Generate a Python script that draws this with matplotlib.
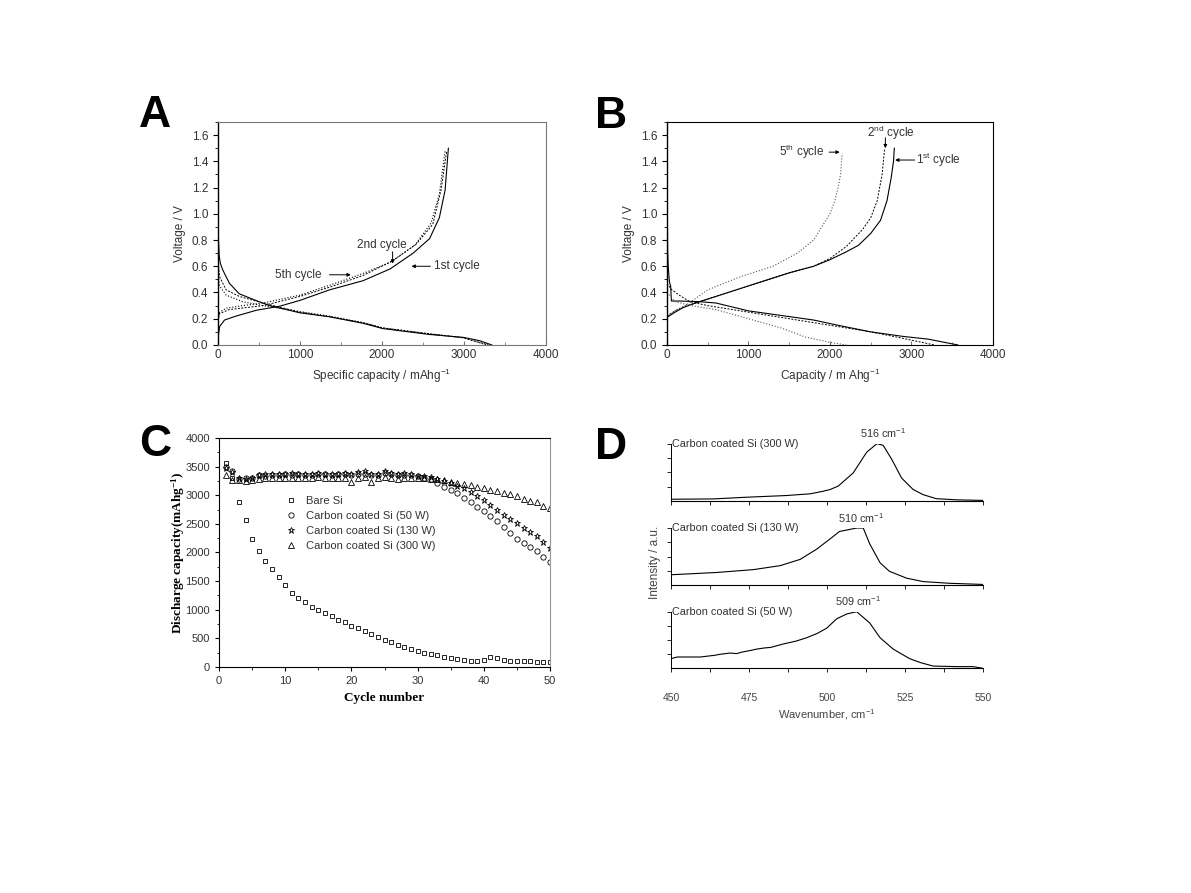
import matplotlib

matplotlib.use("Agg")
import matplotlib.pyplot as plt
from matplotlib.ticker import MultipleLocator

plt.rcParams["font.family"] = ["Liberation Sans", "DejaVu Sans"]
plt.rcParams["mathtext.fontset"] = "custom"
plt.rcParams["mathtext.default"] = "regular"

TXT = "#333333"
SPINE = "#777777"

# ---- panel A: charge/discharge profiles ----
A_cap_d1 = [0, 5, 15, 30, 60, 140, 260, 460, 630, 1000, 1360, 1770, 2010, 2580, 2990, 3190, 3340]
A_v_d1 = [1.0, 0.82, 0.68, 0.62, 0.57, 0.47, 0.39, 0.34, 0.30, 0.245, 0.215, 0.165, 0.125, 0.08, 0.058, 0.033, 0.0]
A_cap_c1 = [0, 20, 80, 220, 470, 750, 1000, 1360, 1770, 2100, 2380, 2580, 2700, 2770, 2810]
A_v_c1 = [0.05, 0.14, 0.19, 0.22, 0.265, 0.295, 0.34, 0.42, 0.49, 0.58, 0.70, 0.81, 0.97, 1.18, 1.50]
A_cap_d2 = [0, 20, 100, 260, 550, 1000, 1360, 1770, 2010, 2580, 2990, 3300]
A_v_d2 = [0.65, 0.52, 0.42, 0.37, 0.32, 0.25, 0.215, 0.17, 0.13, 0.085, 0.055, 0.0]
A_cap_c2 = [0, 20, 140, 550, 1000, 1360, 1770, 2140, 2420, 2620, 2720, 2790]
A_v_c2 = [0.18, 0.24, 0.27, 0.30, 0.37, 0.44, 0.53, 0.645, 0.77, 0.92, 1.18, 1.48]
A_cap_d5 = [0, 20, 100, 300, 550, 1000, 1360, 1770, 2010, 2580, 2990, 3280]
A_v_d5 = [0.55, 0.45, 0.38, 0.33, 0.30, 0.255, 0.22, 0.17, 0.13, 0.085, 0.055, 0.0]
A_cap_c5 = [0, 20, 100, 300, 550, 1000, 1360, 1770, 2100, 2400, 2600, 2700, 2770]
A_v_c5 = [0.20, 0.25, 0.28, 0.30, 0.32, 0.38, 0.455, 0.545, 0.63, 0.76, 0.93, 1.15, 1.48]

# ---- panel B ----
B_cap_d1 = [0, 8, 15, 30, 45, 55, 150, 400, 600, 1000, 1400, 1800, 2100, 2500, 2900, 3200, 3570]
B_v_d1 = [1.50, 0.73, 0.60, 0.48, 0.45, 0.335, 0.335, 0.33, 0.32, 0.26, 0.225, 0.19, 0.15, 0.10, 0.065, 0.045, 0.0]
B_cap_c1 = [0, 100, 200, 350, 750, 1100, 1500, 1800, 2000, 2200, 2350, 2500, 2620, 2700, 2750, 2780, 2790]
B_v_c1 = [0.21, 0.25, 0.285, 0.32, 0.40, 0.47, 0.55, 0.60, 0.65, 0.71, 0.76, 0.85, 0.95, 1.10, 1.27, 1.40, 1.50]
B_cap_d2 = [0, 60, 150, 280, 500, 1000, 1500, 2000, 2500, 2900, 3280]
B_v_d2 = [0.47, 0.42, 0.38, 0.33, 0.30, 0.25, 0.20, 0.15, 0.10, 0.05, 0.0]
B_cap_c2 = [0, 100, 200, 350, 750, 1100, 1500, 1800, 2000, 2200, 2400, 2500, 2580, 2640, 2670]
B_v_c2 = [0.22, 0.26, 0.29, 0.32, 0.40, 0.47, 0.55, 0.60, 0.66, 0.75, 0.88, 0.97, 1.10, 1.30, 1.49]
B_cap_d5 = [0, 100, 300, 600, 1000, 1400, 1700, 2000, 2200]
B_v_d5 = [0.40, 0.33, 0.30, 0.27, 0.20, 0.13, 0.06, 0.02, 0.0]
B_cap_c5 = [0, 100, 250, 500, 900, 1300, 1600, 1800, 1900, 2000, 2060, 2100, 2130, 2150]
B_v_c5 = [0.22, 0.26, 0.31, 0.42, 0.52, 0.60, 0.70, 0.80, 0.90, 1.00, 1.10, 1.20, 1.30, 1.46]

# ---- panel C: cycling ----
cycles = list(range(1, 51))
bare_si = [3560, 3300, 2880, 2560, 2240, 2030, 1860, 1710, 1570, 1430,
           1290, 1205, 1130, 1040, 990, 945, 885, 815, 785, 720,
           680, 625, 575, 525, 475, 430, 390, 350, 315, 275,
           245, 220, 210, 170, 150, 135, 120, 110, 110, 115,
           170, 150, 130, 100, 100, 100, 100, 85, 80, 80]
si_50w = [3500, 3420, 3280, 3300, 3310, 3350, 3340, 3350, 3360, 3370,
          3360, 3370, 3350, 3360, 3380, 3370, 3360, 3370, 3380, 3360,
          3370, 3380, 3350, 3360, 3390, 3370, 3360, 3360, 3350, 3330,
          3310, 3280, 3220, 3150, 3100, 3040, 2960, 2890, 2800, 2720,
          2640, 2550, 2450, 2340, 2240, 2170, 2100, 2030, 1930, 1840]
si_130w = [3480, 3400, 3300, 3290, 3300, 3360, 3370, 3370, 3380, 3380,
           3390, 3380, 3380, 3370, 3390, 3380, 3370, 3380, 3390, 3380,
           3400, 3420, 3380, 3370, 3420, 3390, 3380, 3390, 3370, 3340,
           3330, 3320, 3280, 3250, 3210, 3170, 3120, 3060, 2980, 2910,
           2830, 2750, 2660, 2580, 2510, 2430, 2360, 2280, 2180, 2070]
si_300w = [3350, 3270, 3260, 3250, 3270, 3290, 3300, 3310, 3310, 3310,
           3300, 3310, 3300, 3310, 3320, 3300, 3310, 3310, 3300, 3230,
           3310, 3320, 3230, 3310, 3320, 3300, 3290, 3310, 3300, 3300,
           3300, 3290, 3280, 3260, 3240, 3220, 3200, 3180, 3150, 3120,
           3100, 3080, 3040, 3020, 2980, 2940, 2900, 2880, 2820, 2780]
c_labels = ["Bare Si", "Carbon coated Si (50 W)", "Carbon coated Si (130 W)",
            "Carbon coated Si (300 W)"]

# ---- panel D: Raman ----
wn_300 = [450, 463.6, 474, 487, 494.6, 498.8, 501, 503.6, 508.4, 512.7, 516, 518,
          520.7, 523.9, 527.6, 530.8, 535, 541.5, 550]
int_300 = [0.03, 0.036, 0.065, 0.095, 0.125, 0.17, 0.20, 0.26, 0.49, 0.85, 1.0, 0.97,
           0.73, 0.40, 0.20, 0.11, 0.04, 0.02, 0.01]
wn_130 = [450, 464.7, 476.4, 485, 491.4, 496.7, 501, 504, 506.8, 509.5, 511.6, 513.7,
          517, 520, 525.5, 530.8, 539.3, 550]
int_130 = [0.18, 0.22, 0.27, 0.34, 0.45, 0.63, 0.81, 0.94, 0.97, 1.0, 1.0, 0.72,
           0.39, 0.24, 0.12, 0.06, 0.03, 0.01]
wn_50 = [450, 452, 459.4, 464, 466, 469, 471, 473, 475, 477.5, 480, 482, 486, 490,
         493.5, 497, 499.9, 503.1, 506.3, 509.5, 513.7, 517, 521.2, 526.5, 530, 534,
         541.5, 546.8, 550]
int_50 = [0.17, 0.20, 0.20, 0.23, 0.25, 0.27, 0.26, 0.29, 0.31, 0.34, 0.36, 0.37, 0.43,
          0.48, 0.54, 0.62, 0.71, 0.875, 0.96, 1.0, 0.80, 0.54, 0.34, 0.17, 0.10, 0.04,
          0.03, 0.03, 0.0]
d_names = ["Carbon coated Si (300 W)", "Carbon coated Si (130 W)", "Carbon coated Si (50 W)"]
d_peaks = [516, 510, 509]

fig = plt.figure(figsize=(11.91, 8.93), dpi=100)


def style_vc(ax):
    ax.set_xlim(0, 4000)
    ax.set_ylim(0, 1.7)
    ax.xaxis.set_major_locator(MultipleLocator(1000))
    ax.xaxis.set_minor_locator(MultipleLocator(500))
    ax.yaxis.set_major_locator(MultipleLocator(0.2))
    ax.yaxis.set_minor_locator(MultipleLocator(0.1))
    ax.yaxis.set_major_formatter(plt.FormatStrFormatter("%.1f"))
    ax.tick_params(axis="x", which="both", direction="in", colors=SPINE, labelcolor=TXT,
                   labelsize=8.5, pad=3)
    ax.tick_params(axis="x", which="major", length=3)
    ax.tick_params(axis="x", which="minor", length=2)
    ax.tick_params(axis="y", which="both", direction="out", labelsize=8.5, labelcolor=TXT)
    ax.tick_params(axis="y", which="major", length=3.5, width=0.8)
    ax.tick_params(axis="y", which="minor", length=2, width=0.6)
    for s in ["top", "right", "bottom"]:
        ax.spines[s].set_color(SPINE)
        ax.spines[s].set_linewidth(0.8)
    ax.spines["left"].set_linewidth(1.0)
    ax.set_ylabel("Voltage / V", fontsize=8.5, color=TXT, labelpad=4)


arrow = dict(arrowstyle="-|>", lw=0.7, color="k", mutation_scale=5, shrinkA=0, shrinkB=0)

# A
axA = fig.add_axes([0.1830, 0.6137, 0.2754, 0.2497])
axA.plot(A_cap_d1, A_v_d1, "-", color="k", lw=0.8)
axA.plot(A_cap_c1, A_v_c1, "-", color="k", lw=0.8)
axA.plot(A_cap_d2, A_v_d2, "--", color="k", lw=0.7, dashes=(2, 1.5))
axA.plot(A_cap_c2, A_v_c2, "--", color="k", lw=0.7, dashes=(2, 1.5))
axA.plot(A_cap_d5, A_v_d5, ":", color="k", lw=0.8)
axA.plot(A_cap_c5, A_v_c5, ":", color="k", lw=0.8)
style_vc(axA)
axA.set_xlabel("Specific capacity / mAhg$^{-1}$", fontsize=8.5, color=TXT, labelpad=4)
axA.text(2000, 0.76, "2nd cycle", fontsize=8.5, color=TXT, ha="center", va="center")
axA.annotate("", xy=(2130, 0.62), xytext=(2130, 0.71), arrowprops=arrow)
axA.text(980, 0.537, "5th cycle", fontsize=8.5, color=TXT, ha="center", va="center")
axA.annotate("", xy=(1620, 0.535), xytext=(1360, 0.535), arrowprops=arrow)
axA.text(2640, 0.60, "1st cycle", fontsize=8.5, color=TXT, ha="left", va="center")
axA.annotate("", xy=(2360, 0.60), xytext=(2590, 0.60), arrowprops=arrow)

# B
axB = fig.add_axes([0.5600, 0.6137, 0.2737, 0.2497])
axB.plot(B_cap_d1, B_v_d1, "-", color="k", lw=0.8)
axB.plot(B_cap_c1, B_v_c1, "-", color="k", lw=0.8)
axB.plot(B_cap_d2, B_v_d2, "--", color="k", lw=0.7, dashes=(2, 1.5))
axB.plot(B_cap_c2, B_v_c2, "--", color="k", lw=0.7, dashes=(2, 1.5))
axB.plot(B_cap_d5, B_v_d5, ":", color="#555555", lw=0.8)
axB.plot(B_cap_c5, B_v_c5, ":", color="#555555", lw=0.8)
style_vc(axB)
for s in ["top", "right", "bottom"]:
    axB.spines[s].set_color("k")
axB.set_xlabel("Capacity / m Ahg$^{-1}$", fontsize=8.5, color=TXT, labelpad=4)
axB.text(1930, 1.47, "5$^{th}$ cycle", fontsize=8.5, color=TXT, ha="right", va="center")
axB.annotate("", xy=(2120, 1.47), xytext=(1990, 1.47), arrowprops=arrow)
axB.text(2460, 1.62, "2$^{nd}$ cycle", fontsize=8.5, color=TXT, ha="left", va="center")
axB.annotate("", xy=(2680, 1.50), xytext=(2680, 1.58), arrowprops=arrow)
axB.text(3060, 1.41, "1$^{st}$ cycle", fontsize=8.5, color=TXT, ha="left", va="center")
axB.annotate("", xy=(2800, 1.41), xytext=(3040, 1.41), arrowprops=arrow)

# C
axC = fig.add_axes([0.1839, 0.2531, 0.2779, 0.2564])
mk = dict(linestyle="none", markerfacecolor="none", markeredgecolor="k",
          markeredgewidth=0.6, color="k")
axC.plot(cycles, bare_si, marker="s", markersize=3.5, label=c_labels[0], **mk)
axC.plot(cycles, si_50w, marker="o", markersize=3.8, label=c_labels[1], **mk)
axC.plot(cycles, si_130w, marker="*", markersize=4.5, label=c_labels[2], **mk)
axC.plot(cycles, si_300w, marker="^", markersize=4.2, label=c_labels[3], **mk)
axC.set_xlim(0, 50)
axC.set_ylim(0, 4000)
axC.xaxis.set_major_locator(MultipleLocator(10))
axC.xaxis.set_minor_locator(MultipleLocator(5))
axC.yaxis.set_major_locator(MultipleLocator(500))
axC.yaxis.set_minor_locator(MultipleLocator(250))
axC.tick_params(which="both", direction="out", labelsize=8, labelcolor=TXT)
axC.tick_params(which="major", length=3)
axC.tick_params(which="minor", length=1.8)
axC.spines["right"].set_color("#999999")
axC.set_xlabel("Cycle number", fontsize=9.5, fontweight="bold",
               family=["Liberation Serif", "DejaVu Serif"], labelpad=4)
axC.set_ylabel("Discharge capacity(mAhg$^{-1}$)", fontsize=9.5, fontweight="bold",
               family=["Liberation Serif", "DejaVu Serif"], labelpad=-1)
axC.legend(loc="upper left", bbox_to_anchor=(0.17, 0.79), frameon=False, fontsize=8,
           handletextpad=0.9, labelspacing=0.45, handlelength=1.0, labelcolor=TXT)

# D
d_rects = [[0.5634, 0.4390, 0.2620, 0.0642],
           [0.5634, 0.3449, 0.2620, 0.0638],
           [0.5634, 0.2516, 0.2620, 0.0634]]
d_data = [(wn_300, int_300), (wn_130, int_130), (wn_50, int_50)]
for i, (rect, (wn, it)) in enumerate(zip(d_rects, d_data)):
    ax = fig.add_axes(rect)
    ax.plot(wn, it, "-", color="k", lw=0.8)
    ax.set_xlim(450, 550)
    ax.set_ylim(0, 1.0)
    ax.spines["top"].set_visible(False)
    ax.spines["right"].set_visible(False)
    ax.spines["left"].set_linewidth(0.7)
    ax.spines["bottom"].set_linewidth(0.8)
    ax.set_xticks([450, 462.5, 475, 487.5, 500, 512.5, 525, 537.5, 550])
    ax.set_yticks([0.25, 0.5, 0.75, 1.0])
    ax.set_yticklabels([])
    ax.tick_params(axis="both", direction="out", length=3, width=0.6)
    if i < 2:
        ax.set_xticklabels([])
    else:
        ax.set_xticklabels(["450", "", "475", "", "500", "", "525", "", "550"])
        ax.tick_params(axis="x", labelsize=7.5, labelcolor="#444444", pad=15)
        ax.set_xlabel("Wavenumber, cm$^{-1}$", fontsize=8, color="#444444", labelpad=3)
    ax.text(450.3, 1.0, d_names[i], fontsize=7.8, color=TXT, ha="left", va="center")
    ax.text(d_peaks[i] + (2 if i == 0 else 1), 1.06, f"{d_peaks[i]} cm$^{{-1}}$",
            fontsize=7.8, color=TXT, ha="center", va="bottom")
fig.text(0.550, 0.370, "Intensity / a.u.", rotation=90, fontsize=8.5, color="#444444",
         ha="center", va="center")

# panel letters
for lbl, x, y in [("A", 0.117, 0.871), ("B", 0.500, 0.869), ("C", 0.117, 0.502),
                  ("D", 0.500, 0.499)]:
    fig.text(x, y, lbl, fontsize=32, fontweight="bold", ha="left", va="center")

fig.savefig("out.png", dpi=100)
